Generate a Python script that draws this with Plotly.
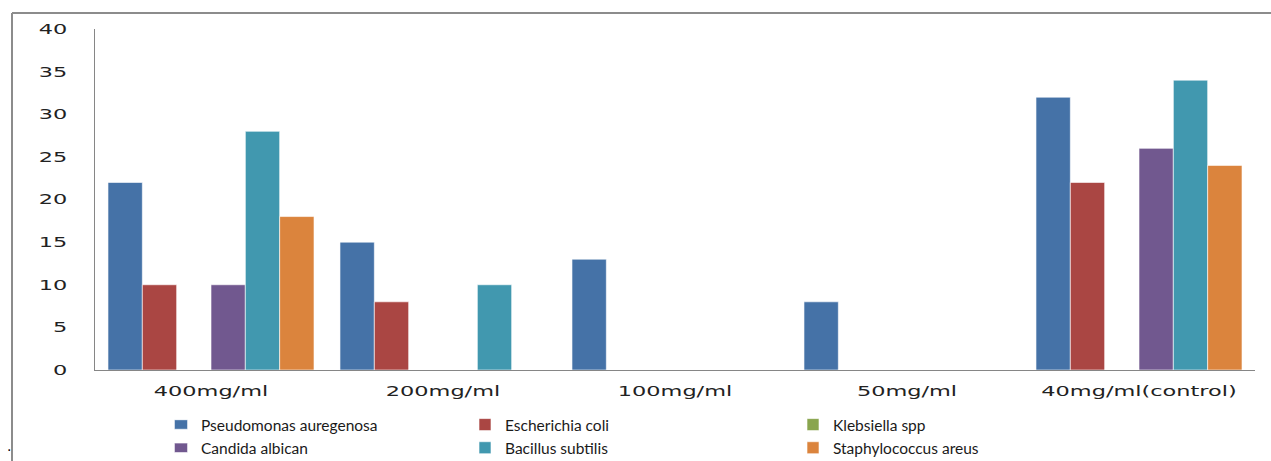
import plotly.graph_objects as go

categories = ["400mg/ml", "200mg/ml", "100mg/ml", "50mg/ml", "40mg/ml(control)"]
pseudomonas = [22, 15, 13, 8, 32]
ecoli = [10, 8, 0, 0, 22]
klebsiella = [0, 0, 0, 0, 0]
candida = [10, 0, 0, 0, 26]
bacillus = [28, 10, 0, 0, 34]
staph = [18, 0, 0, 0, 24]

series = [
    ("Pseudomonas auregenosa", pseudomonas, "#4572A7", "legend"),
    ("Escherichia coli", ecoli, "#AA4643", "legend2"),
    ("Klebsiella spp", klebsiella, "#89A54E", "legend3"),
    ("Candida albican", candida, "#71588F", "legend"),
    ("Bacillus subtilis", bacillus, "#4198AF", "legend2"),
    ("Staphylococcus areus", staph, "#DB843D", "legend3"),
]

W, H = 1271, 461
L, R, T, B = 95, 16, 29, 91
pw, ph = W - L - R, H - T - B


def px(x):
    return (x - L) / pw


def py(y):
    return (H - B - y) / ph


fig = go.Figure()
for name, vals, color, lg in series:
    fig.add_trace(go.Bar(
        name=name, x=categories, y=vals, legend=lg,
        marker=dict(color=color, line=dict(color="rgba(255,255,255,0.6)", width=1)),
    ))

legend_font = dict(family="Lato", size=15.5, color="#1a1a1a")
leg_common = dict(orientation="v", yanchor="top", xanchor="left", font=legend_font,
                  bgcolor="rgba(0,0,0,0)", itemwidth=30, tracegroupgap=0,
                  xref="container", yref="container")

fig.update_layout(
    width=W, height=H,
    margin=dict(l=L, r=R, t=T, b=B, autoexpand=False),
    plot_bgcolor="white", paper_bgcolor="white",
    barmode="group", bargap=0.112, bargroupgap=0,
    legend=dict(x=161 / W, y=1 - 408 / H, **leg_common),
    legend2=dict(x=465 / W, y=1 - 408 / H, **leg_common),
    legend3=dict(x=793 / W, y=1 - 408 / H, **leg_common),
    xaxis=dict(showline=True, linecolor="#868686", linewidth=1, showgrid=False,
               ticks="", ticklabelstandoff=8,
               tickfont=dict(family="DejaVu Sans", size=14, color="#222"),
               range=[-0.5, 4.5]),
    yaxis=dict(range=[0, 40], dtick=5, showline=True, linecolor="#868686", linewidth=1,
               showgrid=False, zeroline=False, ticks="", ticklabelstandoff=24,
               tickfont=dict(family="DejaVu Sans", size=14, color="#222")),
    shapes=[
        dict(type="line", xref="paper", yref="paper", x0=px(12), x1=px(12), y0=py(13), y1=py(461),
             line=dict(color="#8c8c8c", width=2)),
        dict(type="line", xref="paper", yref="paper", x0=px(12), x1=px(1271), y0=py(13), y1=py(13),
             line=dict(color="#8c8c8c", width=2)),
    ],
    annotations=[dict(text=".", xref="paper", yref="paper", x=px(5), y=py(456), showarrow=False,
                      font=dict(family="DejaVu Sans", size=14, color="#000"))],
)

post = """
var gd = document.getElementById('{plot_id}');
gd.querySelectorAll('.xtick text, .ytick text').forEach(function(t){
  var w = t.getComputedTextLength();
  t.setAttribute('textLength', (w*1.6).toFixed(1));
  t.setAttribute('lengthAdjust', 'spacingAndGlyphs');
});
gd.querySelectorAll('.legend .legendpoints path').forEach(function(p){
  var tr = p.getAttribute('transform') || '';
  p.setAttribute('transform', tr + ' scale(1.1,0.78)');
});
"""

fig.write_html("out.html", post_script=post)
